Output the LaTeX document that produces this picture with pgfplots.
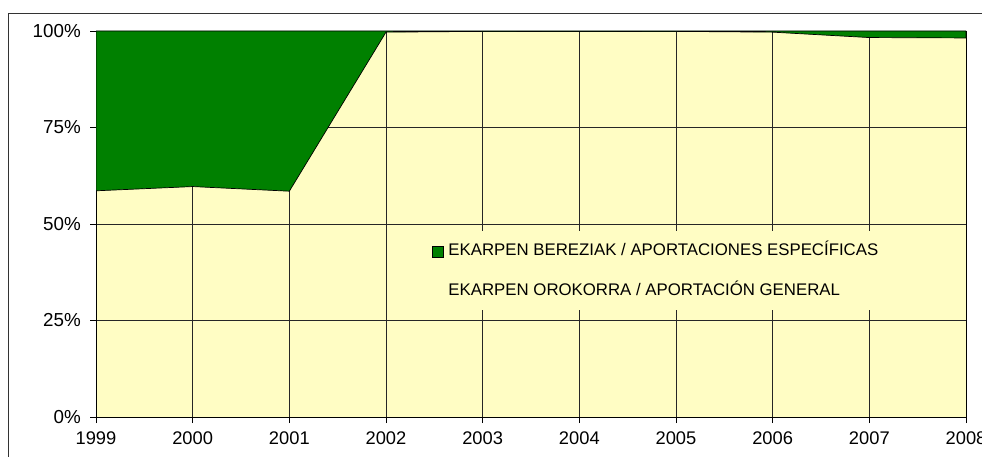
\documentclass[border=0pt]{standalone}
\usepackage{pgfplots}
\pgfplotsset{compat=1.18}
\usepackage{fontspec}
\setmainfont{Liberation Sans}
\definecolor{bgyellow}{HTML}{FFFDC4}
\definecolor{dkgreen}{HTML}{008000}
\begin{document}
\begin{tikzpicture}
\useasboundingbox (0pt,0pt) rectangle (982pt,456pt);
\clip (0pt,0pt) rectangle (982pt,456pt);
\draw[line width=1pt, black!80] (8pt,442pt) rectangle (1000pt,-20pt);
\begin{axis}[
  at={(96pt,39pt)}, anchor=south west,
  scale only axis, width=870pt, height=386pt,
  xmin=1999, xmax=2008, ymin=0, ymax=100,
  xtick={1999,2000,2001,2002,2003,2004,2005,2006,2007,2008},
  ytick={0,25,50,75,100},
  yticklabels={0\%,25\%,50\%,75\%,100\%},
  /pgf/number format/assume math mode=true,
  x tick label style={/pgf/number format/1000 sep={}, font=\fontsize{18.3}{18.3}\selectfont, anchor=north, inner sep=0pt, yshift=-8.5pt},
  y tick label style={font=\fontsize{18.8}{18.8}\selectfont, anchor=east, inner sep=0pt, xshift=-9pt},
  tick align=outside, tick pos=left,
  major tick length=6pt,
  tick style={black, line width=0.8pt},
  grid=major,
  major grid style={black!85, line width=0.7pt},
  axis line style={black, line width=0.9pt},
  axis background/.style={fill=bgyellow},
  stack plots=y,
  reverse legend,
  legend cell align=left,
  legend style={at={(rel axis cs:0.3724,0.4819)}, anchor=north west,
    fill=bgyellow, draw=none, inner xsep=12pt, inner ysep=13.4pt,
    row sep=27pt, column sep=4.7pt,
    font=\fontsize{16.8}{16.8}\selectfont,
    nodes={inner sep=0pt, text height=11.3pt, text depth=0pt}},
]
\addplot[draw=none, fill=none,
  legend image code/.code={\path (0pt,-6.65pt) rectangle (11pt,4.35pt);}]
  coordinates {(1999,58.6) (2000,59.7) (2001,58.5) (2002,99.7) (2003,99.9) (2004,100) (2005,99.9) (2006,99.7) (2007,98.3) (2008,98.2)};
\addlegendentry{EKARPEN OROKORRA / APORTACIÓN GENERAL}
\addplot[fill=dkgreen, draw=black, line width=0.7pt,
  legend image code/.code={\draw[fill=dkgreen, draw=black, line width=0.6pt] (0pt,-6.65pt) rectangle (11pt,4.35pt);}]
  coordinates {(1999,41.4) (2000,40.3) (2001,41.5) (2002,0.3) (2003,0.1) (2004,0) (2005,0.1) (2006,0.3) (2007,1.7) (2008,1.8)} \closedcycle;
\addlegendentry{EKARPEN BEREZIAK / APORTACIONES ESPECÍFICAS}
\end{axis}
\end{tikzpicture}
\end{document}
